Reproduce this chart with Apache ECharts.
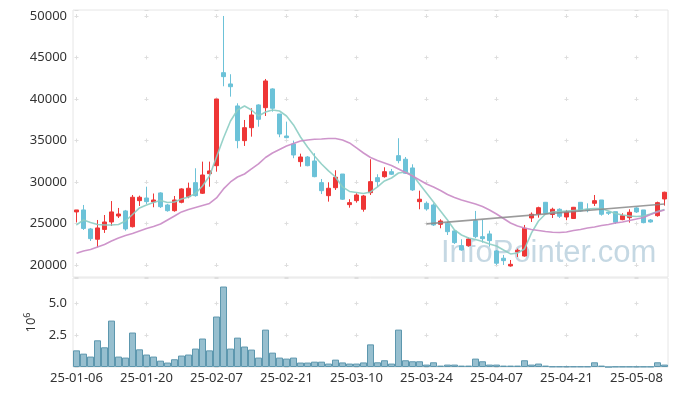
<!DOCTYPE html>
<html>
<head>
<meta charset="utf-8">
<script src="https://cdn.jsdelivr.net/npm/echarts@6/dist/echarts.min.js"></script>
<style>html,body{margin:0;padding:0;background:#fff;}#c{width:677px;height:396px;}</style>
</head>
<body>
<div id="c"></div>
<script>
const dates = ['25-01-06','25-01-07','25-01-08','25-01-09','25-01-10','25-01-13','25-01-14','25-01-15','25-01-16','25-01-17',
'25-01-20','25-01-21','25-01-22','25-01-23','25-01-24','25-01-31','25-02-03','25-02-04','25-02-05','25-02-06',
'25-02-07','25-02-10','25-02-11','25-02-12','25-02-13','25-02-14','25-02-17','25-02-18','25-02-19','25-02-20',
'25-02-21','25-02-24','25-02-25','25-02-26','25-02-27','25-02-28','25-03-04','25-03-05','25-03-06','25-03-07',
'25-03-10','25-03-11','25-03-12','25-03-13','25-03-14','25-03-17','25-03-18','25-03-19','25-03-20','25-03-21',
'25-03-24','25-03-25','25-03-26','25-03-27','25-03-28','25-03-31','25-04-01','25-04-02','25-04-03','25-04-04',
'25-04-07','25-04-08','25-04-09','25-04-10','25-04-11','25-04-14','25-04-15','25-04-16','25-04-17','25-04-18',
'25-04-21','25-04-22','25-04-23','25-04-24','25-04-25','25-04-28','25-04-29','25-04-30','25-05-02','25-05-07',
'25-05-08','25-05-09','25-05-12','25-05-13','25-05-14'];

// [open, close, low, high]
const ohlc = [
[26390,26630,25140,26630],[26630,24400,24220,27230],[24340,23170,22890,24460],[23100,24460,22130,25420],[24280,25180,23860,26020],
[25180,26390,24700,27700],[25900,26140,25660,26870],[26510,24340,24130,26630],[24610,28160,24520,28430],[27750,28160,27110,28350],
[28070,27630,27350,29430],[27590,27830,26950,28610],[28680,27020,26870,28760],[27230,26540,26420,27350],[26540,27830,26420,28310],
[27550,29160,27430,29240],[28230,29240,28040,29920],[29920,28350,28230,31650],[28640,30840,28550,32450],[31000,31330,29430,32450],
[31960,40000,31240,40000],[43170,42690,41530,50000],[41810,41480,40280,42980],[39160,34980,34060,39480],[34980,36540,34340,37470],
[36540,38070,35460,38880],[39280,37550,36660,39360],[38950,42170,37950,42410],[41210,38880,38470,41290],[38190,35780,35390,38190],
[35540,35340,35270,37270],[34580,33250,32860,34980],[32450,33010,31840,33410],[33010,31960,31890,33130],[32530,30640,30570,33460],
[29920,28950,28550,30360],[28350,29240,27630,29960],[29310,30570,29040,31410],[30960,27920,27830,30960],[27270,27510,26900,27920],
[27750,28430,27510,28640],[26710,28310,26420,28430],[28710,30040,28430,32740],[30520,30040,29430,30930],[30640,31240,30520,31770],
[31240,30930,30840,31570],[33170,32570,32250,35270],[32740,31050,30960,33010],[31690,29040,28920,32130],[27630,27920,26710,28950],
[27430,26750,26540,27650],[27230,24820,24700,27430],[24900,25300,24420,25510],[25020,24010,23610,25220],[24100,22690,22530,24220],
[22330,21810,21720,23100],[22330,23130,22210,23290],[25340,23410,23220,26510],[23410,23170,22690,25420],[23740,22930,22210,24130],
[21690,20210,20000,21810],[20810,20520,20000,21210],[19880,20080,19800,20600],[21570,21770,20960,21960],[21080,24420,21000,24820],
[25660,26110,25180,26330],[26140,26900,25700,27020],[27550,26230,26140,27590],[26080,26710,25660,26900],[26710,25870,25660,26830],
[25780,26390,25390,26630],[25600,26950,25540,26990],[27550,26510,26420,27590],[26710,26590,26350,27430],[27430,27750,27110,28430],
[27830,26110,25940,27830],[26350,26230,26020,26420],[26420,25150,24940,26420],[25460,25940,25390,26230],[25700,26350,25100,26710],
[26870,26390,26270,26950],[26630,25100,25020,26630],[25420,25180,25100,25540],[25940,27510,25820,27630],[27950,28760,27150,28830]
];

const ma5 = [24820,25420,25120,24880,24820,24820,24880,25300,26080,26870,
27230,27530,27770,27530,27590,27950,28190,28610,29520,30720,
33010,35300,37350,38670,39160,38670,37950,38430,38670,38550,
37950,36870,35420,34220,33130,32170,31330,30600,29400,28860,
28740,28610,28800,29400,30120,30480,31080,31210,30840,29760,
28680,27590,26510,25420,24220,23610,23250,23070,22830,22530,
22290,21810,21330,21450,21930,23860,25300,26140,26390,26450,
26510,26570,26630,26750,26810,26810,26510,26210,26020,25900,
25840,25900,26140,26450,26690];

const ma20 = [21410,21690,21870,22170,22470,22890,23250,23550,23800,24100,
24400,24640,24940,25420,25900,26390,26690,26930,27170,27410,
28070,29160,30000,30600,30960,31570,32170,32950,33490,33920,
34340,34640,34940,35060,35140,35180,35240,35240,35060,34700,
34100,33490,32950,32590,32290,31990,31570,31140,30720,30240,
29760,29400,28980,28490,28130,27830,27590,27350,27050,26630,
26140,25600,25060,24700,24460,24280,24160,24040,23940,23920,
23980,24160,24280,24460,24580,24760,24880,25060,25180,25360,
25540,25720,26080,26390,26630];

const trend = [['25-03-24', 24950], ['25-05-14', 27350]];

// volume, in millions of shares
const volume = [1.31,1.05,0.82,2.10,1.55,3.65,0.82,0.74,2.71,1.39,
0.98,0.82,0.50,0.35,0.61,0.90,0.98,1.45,2.24,1.31,
3.97,6.33,1.45,2.31,1.61,1.37,0.74,2.94,1.13,0.74,
0.66,0.74,0.35,0.35,0.42,0.42,0.27,0.58,0.36,0.27,
0.27,0.36,1.78,0.37,0.53,0.27,2.94,0.53,0.45,0.45,
0.19,0.37,0.11,0.19,0.19,0.11,0.11,0.66,0.45,0.19,
0.19,0.11,0.11,0.11,0.53,0.19,0.27,0.11,0.04,0.04,
0.04,0.04,0.04,0.04,0.37,0.11,0,0.03,0.03,0.03,
0.03,0.03,0.03,0.37,0.19];

const priceTicks = [20000,25000,30000,35000,40000,45000,50000];
const volTicks = [2.5, 5.0];

const chart = echarts.init(document.getElementById('c'), null, {renderer:'canvas'});
const FONT = 'Noto Sans';
const crossColor = '#dedede';
chart.setOption({
  animation: false,
  backgroundColor: '#fff',
  textStyle: {fontFamily: FONT},
  grid: [
    {left:73, width:595, top:10, height:267, show:true, borderColor:'#e6e6e6', borderWidth:1, backgroundColor:'transparent'},
    {left:73, width:595, top:278, height:89, show:true, borderColor:'#e6e6e6', borderWidth:1, backgroundColor:'transparent'}
  ],
  graphic: [{
    type:'text', left:441, top:238, z:-10, silent:true,
    style:{text:'InfoPointer.com', font:'31px "Liberation Sans"', fill:'rgba(140,178,200,0.5)'}
  }],
  xAxis: [
    {type:'category', gridIndex:0, data:dates, boundaryGap:true,
     axisLine:{show:false}, axisTick:{show:false}, axisLabel:{show:false},
     splitLine:{show:true, interval:9, alignWithLabel:true, lineStyle:{color:crossColor, width:1, type:[4,37.5], dashOffset:37.5}}},
    {type:'category', gridIndex:1, data:dates, boundaryGap:true,
     axisLine:{show:false}, axisTick:{show:false},
     axisLabel:{show:true, interval:9, color:'#333', fontSize:13, fontFamily:FONT, margin:5},
     splitLine:{show:true, interval:9, alignWithLabel:true, lineStyle:{color:crossColor, width:1, type:[4,27.79], dashOffset:8.36}}}
  ],
  yAxis: [
    {type:'value', gridIndex:0, min:18550, max:50720, scale:true,
     axisLine:{show:false}, axisTick:{show:false},
     axisLabel:{color:'#333', fontSize:13, fontFamily:FONT, margin:6,
       formatter: v => priceTicks.indexOf(v) >= 0 ? String(v) : ''},
     splitLine:{show:true, lineStyle:{color:crossColor, width:1, type:[4,66], dashOffset:68.5}}},
    {type:'value', gridIndex:1, min:0, max:7, interval:2.5,
     axisLine:{show:false}, axisTick:{show:false},
     axisLabel:{color:'#333', fontSize:13, fontFamily:FONT, margin:6,
       formatter: v => volTicks.indexOf(v) >= 0 ? v.toFixed(1) : ''},
     splitLine:{show:true, lineStyle:{color:crossColor, width:1, type:[4,66], dashOffset:68.5}},
     name:'{b|10}{s|6}', nameLocation:'middle', nameRotate:90, nameGap:34,
     nameTextStyle:{rich:{b:{fontSize:13, color:'#333', fontFamily:FONT}, s:{fontSize:9, color:'#333', fontFamily:FONT, padding:[0,0,7,0]}}}}
  ],
  series: [
    {type:'candlestick', xAxisIndex:0, yAxisIndex:0, data:ohlc, barWidth:5,
     itemStyle:{color:'#ee3636', color0:'#6cc2d8', borderColor:'#ee3636', borderColor0:'#6cc2d8', borderWidth:1}},
    {type:'line', xAxisIndex:0, yAxisIndex:0, data:ma5, symbol:'none', smooth:false,
     lineStyle:{color:'#8ccdc3', width:1.6, opacity:0.9}, z:3},
    {type:'line', xAxisIndex:0, yAxisIndex:0, data:ma20, symbol:'none', smooth:false,
     lineStyle:{color:'#c98ac5', width:1.6, opacity:0.9}, z:3},
    {type:'line', xAxisIndex:0, yAxisIndex:0, data:trend, symbol:'none',
     lineStyle:{color:'#8a8a8a', width:1.6, opacity:0.85}, z:4},
    {type:'bar', xAxisIndex:1, yAxisIndex:1, data:volume, barCategoryGap:'0%',
     itemStyle:{color:'#97bfcf', borderColor:'#5d97ae', borderWidth:1}}
  ]
});
</script>
</body>
</html>
